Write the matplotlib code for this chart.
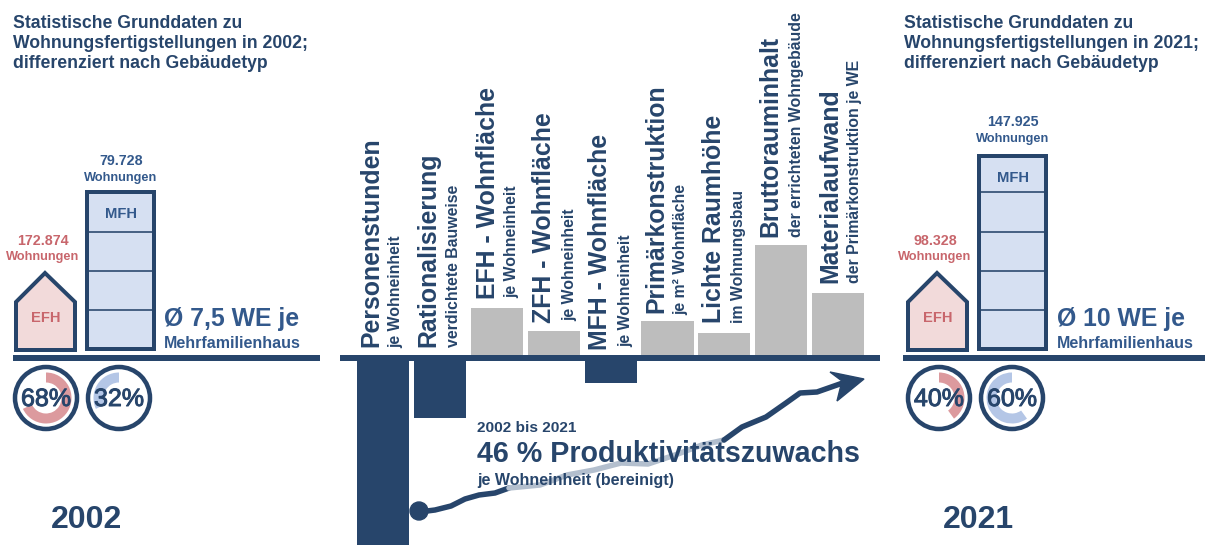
import matplotlib
matplotlib.use('Agg')
import matplotlib.pyplot as plt
import matplotlib.patheffects as pe
from matplotlib.patches import Polygon, Rectangle, Wedge, Circle

plt.rcParams['font.family'] = ['Liberation Sans', 'DejaVu Sans']
plt.rcParams['font.weight'] = 'bold'

NAVY = '#27456b'
BLUE = '#33598c'
RED = '#c8666c'
PINK = '#f2dada'
LBLUE = '#d6e0f2'
GRAY = '#bdbdbd'
RING_RED = '#dc9a9e'
RING_BLUE = '#b4c6e6'

# bar heights (no scale given, arbitrary units)
bar_values = [-200, -60, 50, 27, -25, 37, 25, 113, 65]

main_labels = ['Personenstunden', 'Rationalisierung', 'EFH - Wohnfläche', 'ZFH - Wohnfläche',
               'MFH - Wohnfläche', 'Primärkonstruktion', 'Lichte Raumhöhe', 'Bruttorauminhalt',
               'Materialaufwand']
sub_labels = ['je Wohneinheit', 'verdichtete Bauweise', 'je Wohneinheit', 'je Wohneinheit',
              'je Wohneinheit', 'je m² Wohnfläche', 'im Wohnungsbau',
              'der errichteten Wohngebäude', 'der Primärkonstruktion je WE']
main_x = [371, 428, 488, 544, 600, 656, 714, 770, 830]
main_y = [347, 347, 299, 323, 350, 313, 323, 237, 283]
sub_x = [396, 453, 512, 570, 626, 681, 739, 797, 855]
sub_y = [348, 347, 298, 321, 347, 315, 323, 237, 283]

years = ['2002', '2021']
efh_counts = ['172.874', '98.328']
mfh_counts = ['79.728', '147.925']
efh_share = [68, 40]
mfh_share = [32, 60]
mfh_storeys = [4, 5]
mfh_top = [192, 156]
mfh_count_y = [161, 122]
we_labels = ['Ø 7,5 WE je', 'Ø 10 WE je']

# productivity arrow, dark start, light part behind the text, dark end
arrow_x1 = [419, 435, 451, 465, 479, 495, 509]
arrow_y1 = [512, 510, 506, 499, 495, 493, 488]
arrow_x2 = [509, 540, 567, 594, 621, 648, 675, 702, 724]
arrow_y2 = [488, 485, 475, 470, 463, 464, 455, 445, 440]
arrow_x3 = [724, 742, 766, 786, 800, 817, 837, 851]
arrow_y3 = [440, 427, 417, 403, 393, 392, 385, 380]

fig = plt.figure(figsize=(12.05, 5.45), dpi=100, facecolor='white')

# middle bars
ax_c = fig.add_axes([0, 0, 1, 1])
ax_c.set_xlim(-383 / 56.9, (1205 - 383) / 56.9)
ax_c.set_ylim(-187, 358)
ax_c.axis('off')
colors = [NAVY if v < 0 else GRAY for v in bar_values]
ax_c.bar(range(len(bar_values)), bar_values, width=0.914, color=colors)

# everything else in pixels
ax = fig.add_axes([0, 0, 1, 1])
ax.set_xlim(0, 1205)
ax.set_ylim(545, 0)
ax.axis('off')
ax.patch.set_alpha(0)


def px(w):
    return w * 0.72


for x0, x1 in [(13, 320), (340, 880), (903, 1205)]:
    ax.plot([x0, x1], [358, 358], color=NAVY, lw=px(6), solid_capstyle='butt')

for i in range(len(main_labels)):
    ax.text(main_x[i], main_y[i], main_labels[i], rotation=90, ha='center', va='bottom',
            fontsize=17.9, color=NAVY, zorder=5)
    ax.text(sub_x[i], sub_y[i], sub_labels[i], rotation=90, ha='center', va='bottom',
            fontsize=11.4, color=NAVY, zorder=5)

# arrow
ax.plot(arrow_x1, arrow_y1, color=NAVY, lw=px(5.5), solid_joinstyle='round', solid_capstyle='round')
ax.plot(arrow_x2, arrow_y2, color='#b3bfce', lw=px(5.5), solid_joinstyle='round', solid_capstyle='round')
ax.plot(arrow_x3, arrow_y3, color=NAVY, lw=px(5.5), solid_joinstyle='round', solid_capstyle='round')
ax.add_patch(Circle((419, 511), 9, color=NAVY))
ax.add_patch(Polygon([(864, 379), (830, 372), (842, 381), (837, 401)], closed=True, color=NAVY))

ax.text(477, 428, '2002 bis 2021', fontsize=11.1, color=NAVY, va='center', zorder=5)
ax.text(477, 454, '46 % Produktivitätszuwachs', fontsize=20.6, color=NAVY, va='center', zorder=5)
ax.text(477, 481, 'je Wohneinheit (bereinigt)', fontsize=11.5, color=NAVY, va='center', zorder=5)

# left and right panels
for k, hx in enumerate([0, 892]):
    tx = 13 if k == 0 else 904
    ax.text(tx, 23, 'Statistische Grunddaten zu', fontsize=12.7, color=NAVY, va='center')
    ax.text(tx, 44, 'Wohnungsfertigstellungen in %s;' % years[k], fontsize=12.7, color=NAVY, va='center')
    ax.text(tx, 64, 'differenziert nach Gebäudetyp', fontsize=12.7, color=NAVY, va='center')

    ax.add_patch(Polygon([(16 + hx, 350), (16 + hx, 302), (45 + hx, 273), (75 + hx, 302), (75 + hx, 350)],
                         closed=True, facecolor=PINK, edgecolor=NAVY, lw=px(4), joinstyle='miter'))
    ax.text(45.5 + hx, 318, 'EFH', fontsize=10.6, color=RED, ha='center', va='center')
    ax.text(43 + hx, 241, efh_counts[k], fontsize=10.3, color=RED, ha='center', va='center')
    ax.text(43 + hx, 257, 'Wohnungen', fontsize=9.2, color=RED, ha='center', va='center')

    top = mfh_top[k]
    ax.add_patch(Rectangle((87 + hx, top), 67, 349 - top, facecolor=LBLUE, edgecolor=NAVY, lw=px(4)))
    for s in range(1, mfh_storeys[k]):
        y = 349 - 39.3 * s + 0.5
        ax.plot([88 + hx, 154 + hx], [y, y], color=NAVY, lw=px(1.6), solid_capstyle='butt')
    ax.text(121 + hx, top + 22, 'MFH', fontsize=10.6, color=BLUE, ha='center', va='center')
    ax.text(121 + hx, mfh_count_y[k], mfh_counts[k], fontsize=10.3, color=BLUE, ha='center', va='center')
    ax.text(121 + hx, mfh_count_y[k] + 17, 'Wohnungen', fontsize=9.2, color=BLUE, ha='center', va='center')

    wx = 164 if k == 0 else 1057
    ax.text(wx, 319, we_labels[k], fontsize=17.8, color=BLUE, va='center')
    ax.text(wx, 344, 'Mehrfamilienhaus', fontsize=11.5, color=BLUE, va='center')

    # ring gauges
    cx_e = 46 + hx + k
    cx_m = 119 + hx + k
    a = efh_share[k] * 3.6
    b = mfh_share[k] * 3.6
    ax.add_patch(Wedge((cx_e, 398), 25.5, -90, -90 + a, width=10, facecolor=RING_RED, edgecolor='none'))
    ax.add_patch(Wedge((cx_m, 398), 25.5, -90 - b, -90, width=10, facecolor=RING_BLUE, edgecolor='none'))
    for cx, val in [(cx_e, efh_share[k]), (cx_m, mfh_share[k])]:
        ax.add_patch(Circle((cx, 398), 31, facecolor='none', edgecolor=NAVY, lw=px(4.5)))
        ax.text(cx, 399, '%d%%' % val, fontsize=18, color=NAVY, ha='center', va='center',
                fontweight='normal', zorder=5,
                path_effects=[pe.withStroke(linewidth=0.7, foreground=NAVY)])

ax.text(87, 520, '2002', fontsize=23, color=NAVY, ha='center', va='center')
ax.text(978, 520, '2021', fontsize=23, color=NAVY, ha='center', va='center')

fig.savefig('out.png', dpi=100)
